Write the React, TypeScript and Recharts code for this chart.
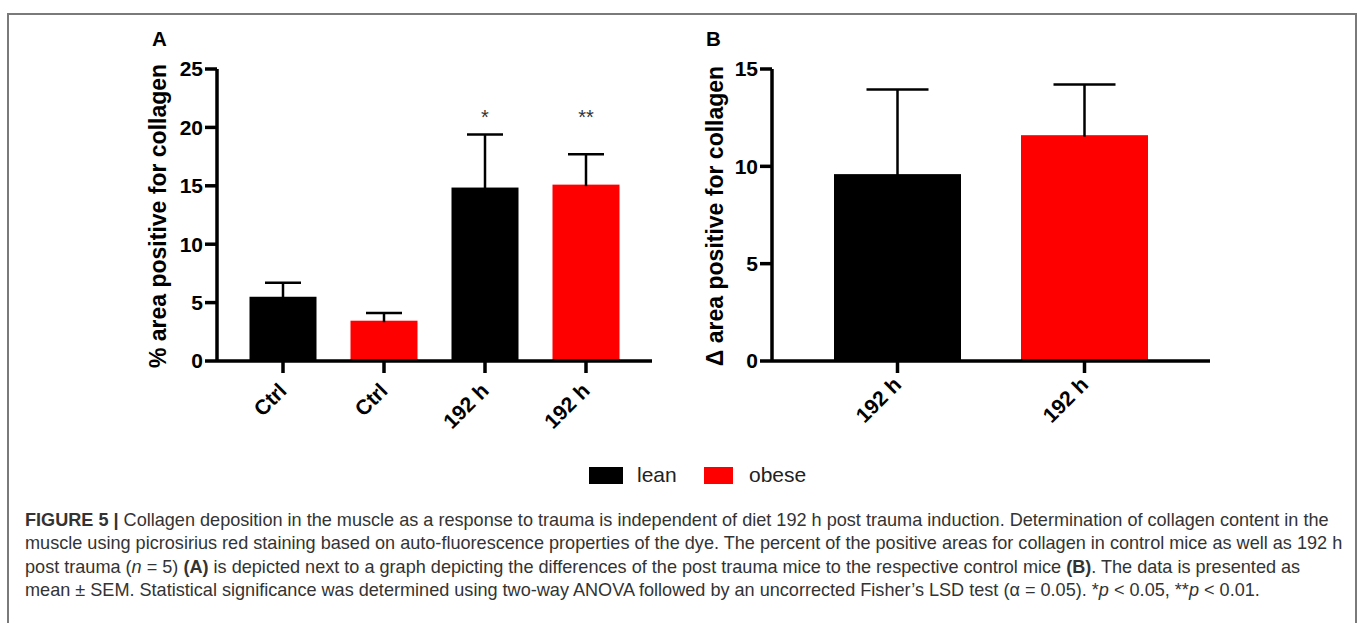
import React from 'react';
import { BarChart, Bar, XAxis, YAxis } from 'recharts';

// ---- Panel A data ----
const categoriesA = ['Ctrl', 'Ctrl', '192 h', '192 h'];
const groupsA = ['lean', 'obese', 'lean', 'obese'];
const meanA = [5.5, 3.45, 14.85, 15.1];
const semA = [1.2, 0.65, 4.55, 2.6];
const sigA = ['', '', '*', '**'];
const ticksA = [0, 5, 10, 15, 20, 25];

// ---- Panel B data ----
const categoriesB = ['192 h', '192 h'];
const groupsB = ['lean', 'obese'];
const meanB = [9.6, 11.6];
const semB = [4.35, 2.6];
const ticksB = [0, 5, 10, 15];

const SIG_LEVEL = 21.3;
const legendItems = ['lean', 'obese'];
const groupColors: Record<string, string> = { lean: '#000000', obese: '#ff0000' };

const dataA = categoriesA.map((c, i) => ({
  id: `A${i}`,
  label: c,
  group: groupsA[i],
  mean: meanA[i],
  sem: semA[i],
  sig: sigA[i],
}));
const dataB = categoriesB.map((c, i) => ({
  id: `B${i}`,
  label: c,
  group: groupsB[i],
  mean: meanB[i],
  sem: semB[i],
  sig: '',
}));

const FONT = '"Liberation Sans", Arial, Helvetica, sans-serif';

const makeShape = (capHalf: number) => (props: any) => {
  const { x, y, width, height, payload } = props;
  const ppu = height / payload.mean;
  const cx = x + width / 2;
  const errTop = y - payload.sem * ppu;
  const base = y + height;
  return (
    <g>
      <rect x={x} y={y} width={width} height={height} fill={groupColors[payload.group]} />
      <line x1={cx} y1={y + 1.5} x2={cx} y2={errTop} stroke="#000" strokeWidth={2.5} />
      <line x1={cx - capHalf} y1={errTop} x2={cx + capHalf} y2={errTop} stroke="#000" strokeWidth={2.5} />
      {payload.sig ? (
        <text x={cx} y={base - SIG_LEVEL * ppu + 11.5} textAnchor="middle" fontSize={20} fill="#333" fontFamily={FONT}>
          {payload.sig}
        </text>
      ) : null}
    </g>
  );
};

const makeXTick = (data: any[], dx: number, dy: number) => (props: any) => {
  const { x, y, payload } = props;
  const item = data.find((d) => d.id === payload.value);
  return (
    <g transform={`translate(${x + dx},${y + dy})`}>
      <text textAnchor="end" transform="rotate(-45)" fontSize={21} fontWeight="bold" fill="#000" fontFamily={FONT}>
        {item ? item.label : ''}
      </text>
    </g>
  );
};

const YLabel = (props: any) => {
  const { viewBox, text, gap } = props;
  const vb = viewBox || { x: 0, y: 0, width: 0, height: 0 };
  const cx = vb.x + vb.width - gap;
  const cy = vb.y + vb.height / 2 + 1;
  return (
    <text
      x={cx}
      y={cy}
      transform={`rotate(-90, ${cx}, ${cy})`}
      textAnchor="middle"
      dominantBaseline="central"
      fontSize={23}
      fontWeight="bold"
      fill="#000"
      fontFamily={FONT}
    >
      {text}
    </text>
  );
};

const axisStyle = { stroke: '#000', strokeWidth: 3.5 };
const tickFont = { fontSize: 21, fontWeight: 'bold', fill: '#000', fontFamily: FONT };

export default function App() {
  return (
    <div
      style={{
        position: 'absolute',
        left: 0,
        top: 0,
        width: 1357,
        height: 623,
        overflow: 'hidden',
        background: '#fff',
        fontFamily: FONT,
      }}
    >
      <div
        style={{
          position: 'absolute',
          left: 7,
          top: 13,
          width: 1346,
          height: 700,
          border: '2px solid #7a7a7a',
        }}
      />
      <div style={{ position: 'absolute', left: 152, top: 27, fontSize: 20.5, fontWeight: 'bold', color: '#000' }}>A</div>
      <div style={{ position: 'absolute', left: 706, top: 27, fontSize: 20.5, fontWeight: 'bold', color: '#000' }}>B</div>

      <div style={{ position: 'absolute', left: 120, top: 50 }}>
        <BarChart width={560} height={400} data={dataA} margin={{ top: 19, right: 28, bottom: 19, left: 0 }}>
          <XAxis
            dataKey="id"
            height={70}
            padding={{ left: 15.5, right: 15.5 }}
            axisLine={axisStyle}
            tickLine={axisStyle}
            tickSize={12}
            tickMargin={0}
            interval={0}
            tick={makeXTick(dataA, 5, 19)}
          />
          <YAxis
            width={97}
            domain={[0, 25]}
            ticks={ticksA}
            interval={0}
            axisLine={axisStyle}
            tickLine={axisStyle}
            tickSize={12}
            tickMargin={2}
            tick={tickFont}
            label={<YLabel text="% area positive for collagen" gap={59} />}
          />
          <Bar dataKey="mean" barSize={67} isAnimationActive={false} shape={makeShape(18)} />
        </BarChart>
      </div>

      <div style={{ position: 'absolute', left: 680, top: 50 }}>
        <BarChart width={560} height={400} data={dataB} margin={{ top: 19, right: 30, bottom: 19, left: 0 }}>
          <XAxis
            dataKey="id"
            height={70}
            padding={{ left: 32, right: 32 }}
            axisLine={axisStyle}
            tickLine={axisStyle}
            tickSize={12}
            tickMargin={0}
            interval={0}
            tick={makeXTick(dataB, 5, 13)}
          />
          <YAxis
            width={92}
            domain={[0, 15]}
            ticks={ticksB}
            interval={0}
            axisLine={axisStyle}
            tickLine={axisStyle}
            tickSize={12}
            tickMargin={2}
            tick={tickFont}
            label={<YLabel text="Δ area positive for collagen" gap={57} />}
          />
          <Bar dataKey="mean" barSize={127} isAnimationActive={false} shape={makeShape(31)} />
        </BarChart>
      </div>

      {/* legend */}
      <div style={{ position: 'absolute', left: 589, top: 467, width: 34, height: 17, background: groupColors[legendItems[0]] }} />
      <div style={{ position: 'absolute', left: 637, top: 462, fontSize: 21, lineHeight: '26px', color: '#222' }}>{legendItems[0]}</div>
      <div style={{ position: 'absolute', left: 704, top: 467, width: 29, height: 17, background: groupColors[legendItems[1]] }} />
      <div style={{ position: 'absolute', left: 749, top: 462, fontSize: 21, lineHeight: '26px', color: '#222' }}>{legendItems[1]}</div>

      {/* caption */}
      <div
        style={{
          position: 'absolute',
          left: 25,
          top: 509,
          fontSize: 18.1,
          lineHeight: '23.3px',
          color: '#333',
          whiteSpace: 'nowrap',
        }}
      >
        <div>
          <b>FIGURE 5 |</b> Collagen deposition in the muscle as a response to trauma is independent of diet 192 h post trauma induction. Determination of collagen content in the
        </div>
        <div>
          muscle using picrosirius red staining based on auto-fluorescence properties of the dye. The percent of the positive areas for collagen in control mice as well as 192 h
        </div>
        <div>
          post trauma (<i>n</i> = 5) <b>(A)</b> is depicted next to a graph depicting the differences of the post trauma mice to the respective control mice <b>(B)</b>. The data is presented as
        </div>
        <div>
          mean ± SEM. Statistical significance was determined using two-way ANOVA followed by an uncorrected Fisher’s LSD test (α = 0.05). *<i>p</i> &lt; 0.05, **<i>p</i> &lt; 0.01.
        </div>
      </div>
    </div>
  );
}
